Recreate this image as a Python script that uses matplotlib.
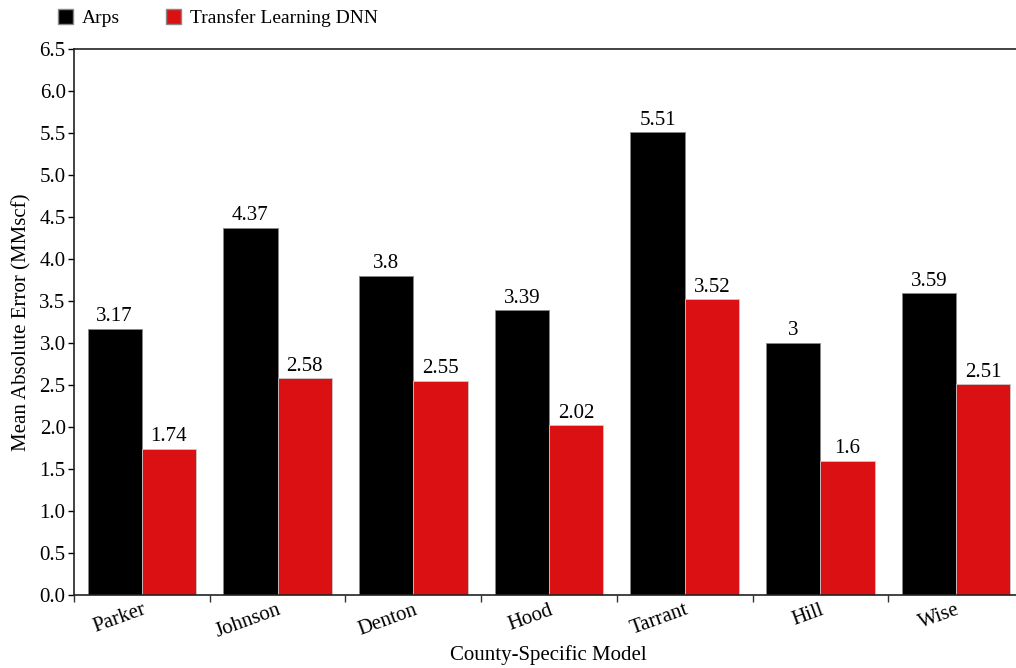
import numpy as np
import matplotlib.pyplot as plt
from matplotlib.patches import Patch

plt.rcParams['font.family'] = ['Liberation Serif', 'DejaVu Serif']

counties = ["Parker", "Johnson", "Denton", "Hood", "Tarrant", "Hill", "Wise"]
arps = [3.17, 4.37, 3.8, 3.39, 5.51, 3, 3.59]
dnn = [1.74, 2.58, 2.55, 2.02, 3.52, 1.6, 2.51]
labels_arps = ["3.17", "4.37", "3.8", "3.39", "5.51", "3", "3.59"]
labels_dnn = ["1.74", "2.58", "2.55", "2.02", "3.52", "1.6", "2.51"]

black = "#000000"
red = "#DA1013"

fig = plt.figure(figsize=(10.16, 6.68), dpi=100)
ax = fig.add_axes([0.0728, 0.1093, 0.935, 0.8173])

x = np.arange(len(counties))
w = 0.4
b1 = ax.bar(x - w / 2, arps, w, color=black, edgecolor="#888888", linewidth=0.6)
b2 = ax.bar(x + w / 2, dnn, w, color=red, edgecolor="#c8c8c8", linewidth=0.6)

for bars, labs in [(b1, labels_arps), (b2, labels_dnn)]:
    for r, t in zip(bars, labs):
        ax.text(r.get_x() + r.get_width() / 2, r.get_height() + 0.03, t,
                ha="center", va="bottom", fontsize=15)

ax.set_xlim(-0.5, len(counties) - 0.5)
ax.set_ylim(0, 6.5)
ax.set_yticks(np.arange(0, 6.51, 0.5))
ax.set_yticklabels([f"{v:.1f}" for v in np.arange(0, 6.51, 0.5)], fontsize=15)

ax.set_xticks(x)
ax.set_xticklabels(counties, fontsize=15, rotation=20, ha="right",
                   rotation_mode="anchor")
ax.tick_params(axis="x", which="major", length=0, pad=4)
ax.set_xticks(np.arange(len(counties) + 1) - 0.5, minor=True)
ax.tick_params(axis="x", which="minor", length=5, width=1, color="#333333")
ax.tick_params(axis="y", length=4, width=1, pad=2)

ax.spines["right"].set_visible(False)
for s in ["left", "bottom", "top"]:
    ax.spines[s].set_linewidth(1.2)
    ax.spines[s].set_color("#222222")

ax.set_xlabel("County-Specific Model", fontsize=15)
ax.xaxis.set_label_coords(0.499, -0.092)
ax.set_ylabel("Mean Absolute Error (MMscf)", fontsize=15, labelpad=6)

handles = [Patch(facecolor=black, edgecolor="#888888", label="Arps"),
           Patch(facecolor=red, edgecolor="#888888", label="Transfer Learning DNN")]
fig.legend(handles=handles, loc="upper left", bbox_to_anchor=(0.040, 1.012),
           ncol=2, frameon=False, fontsize=14, handlelength=0.75,
           handleheight=0.75, handletextpad=0.45, columnspacing=2.4)

fig.savefig("out.png", dpi=100)
